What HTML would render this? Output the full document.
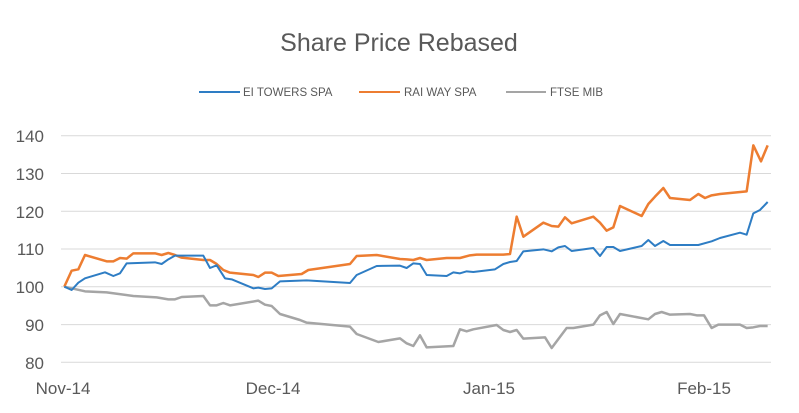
<!DOCTYPE html>
<html><head><meta charset="utf-8"><style>
html,body{margin:0;padding:0;background:#fff;}
svg{display:block;font-family:"Liberation Sans",sans-serif;}
</style></head><body>
<svg width="799" height="413" viewBox="0 0 799 413" xmlns="http://www.w3.org/2000/svg">
<rect width="799" height="413" fill="#fff"/>
<text x="399" y="51" text-anchor="middle" font-size="25" fill="#595959">Share Price Rebased</text>
<g font-size="11.5" fill="#595959">
<line x1="199" y1="92" x2="240" y2="92" stroke="#2e7dc4" stroke-width="2"/>
<text x="243" y="96">EI TOWERS SPA</text>
<line x1="359" y1="92" x2="400" y2="92" stroke="#ed7d31" stroke-width="2"/>
<text x="404" y="96">RAI WAY SPA</text>
<line x1="506" y1="92" x2="546" y2="92" stroke="#a5a5a5" stroke-width="2"/>
<text x="550" y="96">FTSE MIB</text>
</g>
<g stroke="#d9d9d9" stroke-width="1">
<line x1="61" y1="135.7" x2="771" y2="135.7"/>
<line x1="61" y1="173.5" x2="771" y2="173.5"/>
<line x1="61" y1="211.3" x2="771" y2="211.3"/>
<line x1="61" y1="249" x2="771" y2="249"/>
<line x1="61" y1="286.8" x2="771" y2="286.8"/>
<line x1="61" y1="324.6" x2="771" y2="324.6"/>
<line x1="61" y1="362.3" x2="771" y2="362.3"/>
</g>
<g font-size="17" fill="#595959" text-anchor="end">
<text x="44" y="142">140</text><text x="44" y="180">130</text><text x="44" y="218">120</text>
<text x="44" y="255">110</text><text x="44" y="293">100</text><text x="44" y="331">90</text><text x="44" y="369">80</text>
</g>
<g font-size="17" fill="#595959" text-anchor="middle">
<text x="63" y="394">Nov-14</text><text x="273" y="394">Dec-14</text><text x="489" y="394">Jan-15</text><text x="704" y="394">Feb-15</text>
</g>
<g transform="translate(0,120) scale(0.33333)" fill="none" stroke-linejoin="round">
<polyline stroke="#a5a5a5" stroke-width="7.5" points="193,500 255,514 320,517 400,528 470,532 505,538 525,538 545,531 610,528 630,556 650,556 670,549 690,556 775,542 795,554 815,558 840,582 900,600 920,608 1050,620 1070,642 1135,666 1200,655 1220,670 1240,678 1260,646 1280,682 1360,678 1380,628 1400,634 1420,628 1490,615 1510,630 1530,636 1550,630 1570,656 1635,652 1655,684 1700,624 1720,624 1780,614 1800,586 1820,576 1840,612 1860,582 1945,598 1965,582 1985,576 2010,584 2070,582 2090,586 2112,586 2135,624 2155,614 2220,614 2240,624 2260,622 2280,618 2303,618"/>
<polyline stroke="#ed7d31" stroke-width="7.5" points="193,500 215,452 235,448 255,405 320,424 340,424 360,414 380,416 400,400 465,400 485,405 505,399 525,405 545,413 610,420 630,420 650,432 670,450 690,458 760,465 775,471 795,458 815,458 835,468 905,462 925,450 1050,432 1070,408 1130,405 1200,417 1220,418 1240,420 1260,414 1280,420 1340,414 1380,414 1410,406 1430,404 1510,404 1530,402 1550,290 1570,350 1630,308 1655,318 1675,320 1695,292 1715,310 1780,290 1800,308 1820,332 1840,322 1860,258 1925,288 1945,252 1965,230 1990,204 2010,234 2070,240 2095,222 2115,234 2135,226 2160,222 2240,214 2260,76 2283,124 2303,76"/>
<polyline stroke="#2e7dc4" stroke-width="6" points="193,500 215,510 235,488 255,475 315,457 340,468 360,460 380,430 465,427 485,432 505,418 525,407 610,407 630,444 650,436 675,475 695,478 760,505 775,503 795,507 815,505 840,484 920,481 1050,489 1070,465 1130,438 1200,437 1220,444 1240,430 1260,432 1280,465 1340,468 1360,457 1380,460 1400,454 1420,456 1485,448 1510,432 1530,426 1550,423 1570,394 1630,388 1655,394 1675,382 1695,378 1715,393 1780,384 1800,408 1820,381 1840,381 1860,393 1925,378 1945,360 1965,378 1990,363 2010,375 2095,375 2135,364 2160,354 2220,338 2240,344 2260,280 2280,270 2303,246"/>
</g>
</svg>
</body></html>
